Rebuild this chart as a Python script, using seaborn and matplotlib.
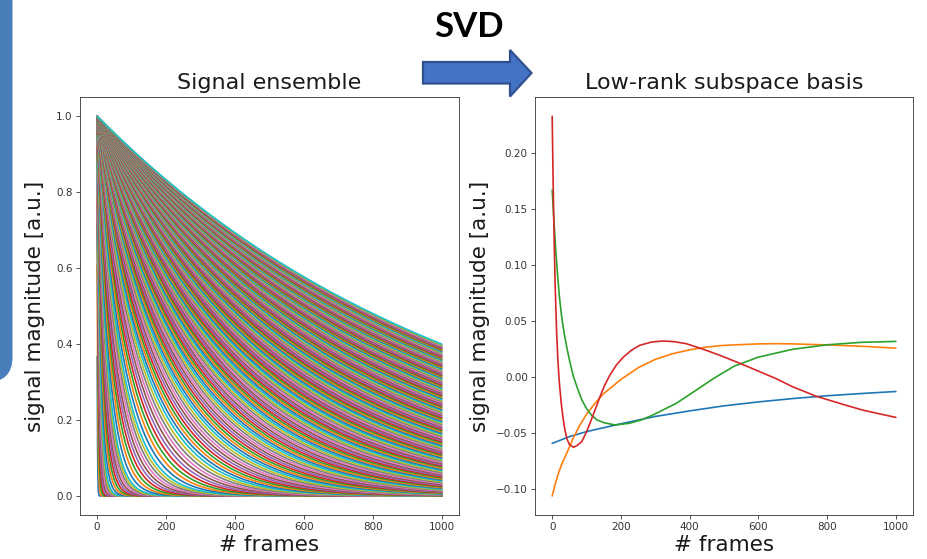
import numpy as np
import pandas as pd
import matplotlib
matplotlib.use("Agg")
import matplotlib.pyplot as plt
import seaborn as sns
from matplotlib.patches import Polygon, FancyBboxPatch

# ---------------------------------------------------------------------------
# Signal ensemble: mono-exponential decays exp(-t / T) for a dictionary of T
# ---------------------------------------------------------------------------
frames = np.arange(1, 1001)
decay_short = np.arange(1, 11, 1)
decay_fine = np.arange(12, 31, 2)
decay_mid = np.arange(34, 71, 4)
decay_long = np.arange(76, 1091, 6)
decay_times = np.concatenate([decay_short, decay_fine, decay_mid, decay_long])

# ---------------------------------------------------------------------------
# Low-rank subspace basis (first four singular vectors)
# ---------------------------------------------------------------------------
basis1_frames = [0, 50, 100, 150, 200, 300, 400, 500, 600, 700, 800, 900, 1000]
basis1_values = [-0.059, -0.053, -0.0485, -0.045, -0.0415, -0.035, -0.030,
                 -0.0255, -0.022, -0.019, -0.0165, -0.0145, -0.0127]

basis2_frames = [0, 10, 20, 30, 45, 60, 80, 100, 125, 150, 200, 250, 300, 350,
                 400, 450, 500, 600, 650, 700, 800, 900, 1000]
basis2_values = [-0.106, -0.094, -0.084, -0.076, -0.066, -0.055, -0.043,
                 -0.033, -0.023, -0.0145, -0.002, 0.0085, 0.016, 0.021,
                 0.0245, 0.027, 0.0285, 0.0298, 0.030, 0.0298, 0.0289,
                 0.0277, 0.026]

basis3_frames = [0, 5, 10, 15, 21, 28, 35, 43, 52, 62, 75, 86, 100, 115, 130,
                 150, 183, 226, 260, 293, 330, 361, 419, 470, 530, 600, 700,
                 800, 900, 1000]
basis3_values = [0.167, 0.14, 0.115, 0.094, 0.072, 0.053, 0.039, 0.026, 0.013,
                 0.0004, -0.011, -0.020, -0.028, -0.034, -0.038, -0.0405,
                 -0.0426, -0.041, -0.038, -0.0337, -0.028, -0.0233, -0.0115,
                 -0.001, 0.010, 0.018, 0.025, 0.029, 0.0312, 0.032]

basis4_frames = [0, 2, 4, 6, 9, 13, 17, 21, 26, 31, 37, 43, 50, 62, 72, 86,
                 98, 110, 125, 139, 153, 168, 187, 207, 230, 255, 290, 322,
                 355, 390, 420, 448, 487, 550, 600, 650, 700, 767, 850, 900,
                 950, 1000]
basis4_values = [0.233, 0.19, 0.152, 0.118, 0.078, 0.040, 0.013, -0.0055,
                 -0.022, -0.035, -0.047, -0.055, -0.060, -0.0625, -0.061,
                 -0.0575, -0.050, -0.041, -0.029, -0.0174, -0.007, 0.002,
                 0.011, 0.018, 0.024, 0.0286, 0.0315, 0.0324, 0.0318, 0.030,
                 0.027, 0.0241, 0.0197, 0.012, 0.0055, -0.001, -0.0085,
                 -0.0168, -0.0245, -0.029, -0.0325, -0.0358]

# ---------------------------------------------------------------------------
# Style
# ---------------------------------------------------------------------------
sns.set_theme(style="ticks")
plt.rcParams.update({
    "font.family": ["DejaVu Sans"],
    "axes.linewidth": 0.6,
    "axes.edgecolor": "0.2",
    "xtick.major.size": 2.6,
    "ytick.major.size": 2.6,
    "xtick.major.width": 0.6,
    "ytick.major.width": 0.6,
    "xtick.major.pad": 2.6,
    "ytick.major.pad": 2.6,
    "xtick.labelsize": 7.5,
    "ytick.labelsize": 7.5,
    "xtick.color": "0.2",
    "ytick.color": "0.2",
    "axes.unicode_minus": True,
})

W, H = 928, 559
fig = plt.figure(figsize=(W / 100, H / 100), dpi=100)
fig.patch.set_facecolor("white")


def px_axes(left, top, right, bottom):
    return [left / W, 1 - bottom / H, (right - left) / W, (bottom - top) / H]


ax1 = fig.add_axes(px_axes(80, 97.3, 459, 515))
ax2 = fig.add_axes(px_axes(535, 97.3, 913, 515))

tab10 = sns.color_palette("tab10")

# --- left panel: the whole ensemble ------------------------------------------
labels = [f"T{i}" for i in range(len(decay_times))]
ens = pd.DataFrame({
    "frame": np.tile(frames, len(decay_times)),
    "signal": np.exp(-frames[None, :] / decay_times[:, None]).ravel(),
    "curve": np.repeat(labels, len(frames)),
})
sns.lineplot(data=ens, x="frame", y="signal", hue="curve", hue_order=labels,
             palette=[tab10[i % 10] for i in range(len(labels))],
             estimator=None, sort=False, errorbar=None, legend=False,
             linewidth=1.2, ax=ax1)

# --- right panel: subspace basis ----------------------------------------------
basis = pd.concat([
    pd.DataFrame({"frame": f, "value": v, "component": name})
    for name, f, v in [("u1", basis1_frames, basis1_values),
                       ("u2", basis2_frames, basis2_values),
                       ("u3", basis3_frames, basis3_values),
                       ("u4", basis4_frames, basis4_values)]
])
sns.lineplot(data=basis, x="frame", y="value", hue="component",
             palette=tab10[:4], estimator=None, sort=False, errorbar=None,
             legend=False, linewidth=1.2, ax=ax2)

for ax, title in [(ax1, "Signal ensemble"), (ax2, "Low-rank subspace basis")]:
    ax.set_title(title, fontsize=16, color="0.1")
    ax.set_xlabel("# frames", fontsize=15.5, color="0.1", labelpad=2)
    ax.set_ylabel("signal magnitude [a.u.]", fontsize=15.5, color="0.1")
    ax.set_xticks([0, 200, 400, 600, 800, 1000])
    for s in ax.spines.values():
        s.set_visible(True)

ax1.set_yticks([0.0, 0.2, 0.4, 0.6, 0.8, 1.0])
ax1.yaxis.labelpad = 8
ax2.set_yticks([-0.10, -0.05, 0.00, 0.05, 0.10, 0.15, 0.20])

# --- slide decorations: side bar, "SVD" label and arrow --------------------------
deco = fig.add_axes([0, 0, 1, 1], zorder=5)
deco.set_xlim(0, W)
deco.set_ylim(H, 0)
deco.axis("off")
deco.patch.set_alpha(0)

deco.add_patch(FancyBboxPatch((-40, -40), 52.5, 422,
                              boxstyle="round,pad=0,rounding_size=25",
                              facecolor="#4A7EBB", edgecolor="none"))
deco.text(469, 37, "SVD", fontsize=25, fontweight="bold", family=["Lato", "DejaVu Sans"],
          ha="center", va="baseline", color="black")
arrow_pts = [(423, 62), (510, 62), (510, 50), (531.5, 73), (510, 96.5),
             (510, 83.5), (423, 83.5)]
deco.add_patch(Polygon(arrow_pts, closed=True, facecolor="#4472C4",
                       edgecolor="#2F528F", linewidth=1.6))

fig.savefig("out.png", dpi=100)
